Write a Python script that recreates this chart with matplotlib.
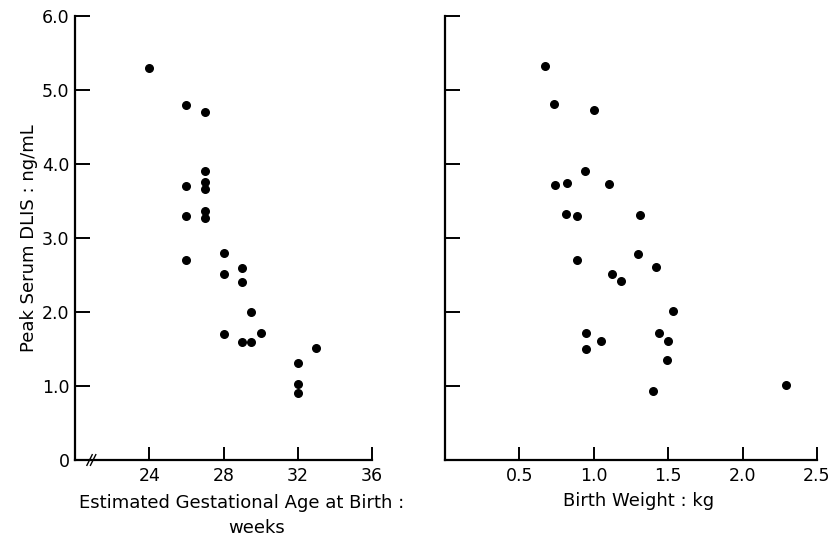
import matplotlib
matplotlib.use("Agg")
import matplotlib.pyplot as plt

# Data
ga_weeks = [24, 26, 27, 27, 26, 27, 27, 26, 27, 27, 26, 28, 29, 28, 29, 29.5, 28, 29, 29.5, 30, 32, 33, 32, 32]
ga_dlis = [5.3, 4.8, 4.7, 3.9, 3.7, 3.76, 3.66, 3.3, 3.36, 3.27, 2.7, 2.8, 2.6, 2.52, 2.4, 2.0, 1.7, 1.6, 1.6, 1.71, 1.31, 1.51, 1.03, 0.9]

bw_kg = [0.67, 0.73, 1.0, 0.94, 0.74, 0.82, 1.10, 0.81, 0.89, 1.31, 0.89, 1.30, 1.42, 1.12, 1.18, 1.53, 0.95, 1.05, 0.95, 1.44, 1.50, 1.49, 1.40, 2.29]
bw_dlis = [5.33, 4.81, 4.73, 3.91, 3.71, 3.75, 3.73, 3.32, 3.30, 3.31, 2.70, 2.79, 2.61, 2.52, 2.42, 2.01, 1.72, 1.61, 1.50, 1.72, 1.61, 1.35, 0.93, 1.02]

y_ticks = [0, 1, 2, 3, 4, 5, 6]
y_ticklabels = ["0", "1.0", "2.0", "3.0", "4.0", "5.0", "6.0"]
ga_ticks = [24, 28, 32, 36]
ga_ticklabels = ["24", "28", "32", "36"]
bw_ticks = [0.5, 1.0, 1.5, 2.0, 2.5]
bw_ticklabels = ["0.5", "1.0", "1.5", "2.0", "2.5"]

plt.rcParams['font.family'] = ['DejaVu Sans']

W, H = 831, 539
fig = plt.figure(figsize=(W / 100, H / 100), dpi=100)
fig.patch.set_facecolor("white")

axL = fig.add_axes([75 / W, (H - 460) / H, (372 - 75) / W, (460 - 16) / H])
axR = fig.add_axes([445 / W, (H - 460) / H, (817 - 445) / W, (460 - 16) / H])

for ax in (axL, axR):
    for s in ("top", "right"):
        ax.spines[s].set_visible(False)
    for s in ("left", "bottom"):
        ax.spines[s].set_linewidth(1.6)
        ax.spines[s].set_color("black")
    ax.set_ylim(0, 6)
    ax.set_yticks(y_ticks)
    ax.tick_params(axis="y", direction="in", length=11, width=1.4, pad=4, labelsize=12.5)
    ax.tick_params(axis="x", direction="in", length=9.5, width=1.4, pad=5, labelsize=12.5)

axL.scatter(ga_weeks, ga_dlis, s=30, color="black", zorder=3, clip_on=False)
axL.set_xlim(20, 36)
axL.set_xticks(ga_ticks)
axL.set_xticklabels(ga_ticklabels)
axL.set_yticklabels(y_ticklabels)
axL.set_ylabel("Peak Serum DLIS : ng/mL", fontsize=13, labelpad=3)
axL.text(0.562, -0.097, "Estimated Gestational Age at Birth :", transform=axL.transAxes,
         ha="center", va="center", fontsize=13)
axL.text(0.613, -0.153, "weeks", transform=axL.transAxes,
         ha="center", va="center", fontsize=13)
# axis break mark
for dx in (0.0, 0.012):
    axL.plot([0.040 + dx, 0.058 + dx], [-0.012, 0.012], transform=axL.transAxes,
             color="black", lw=1.0, clip_on=False)

axR.scatter(bw_kg, bw_dlis, s=30, color="black", zorder=3, clip_on=False)
axR.set_xlim(0, 2.5)
axR.set_xticks(bw_ticks)
axR.set_xticklabels(bw_ticklabels)
axR.set_yticklabels([])
axR.text(0.52, -0.092, "Birth Weight : kg", transform=axR.transAxes,
         ha="center", va="center", fontsize=13)

fig.savefig("out.png", dpi=100, facecolor="white")
